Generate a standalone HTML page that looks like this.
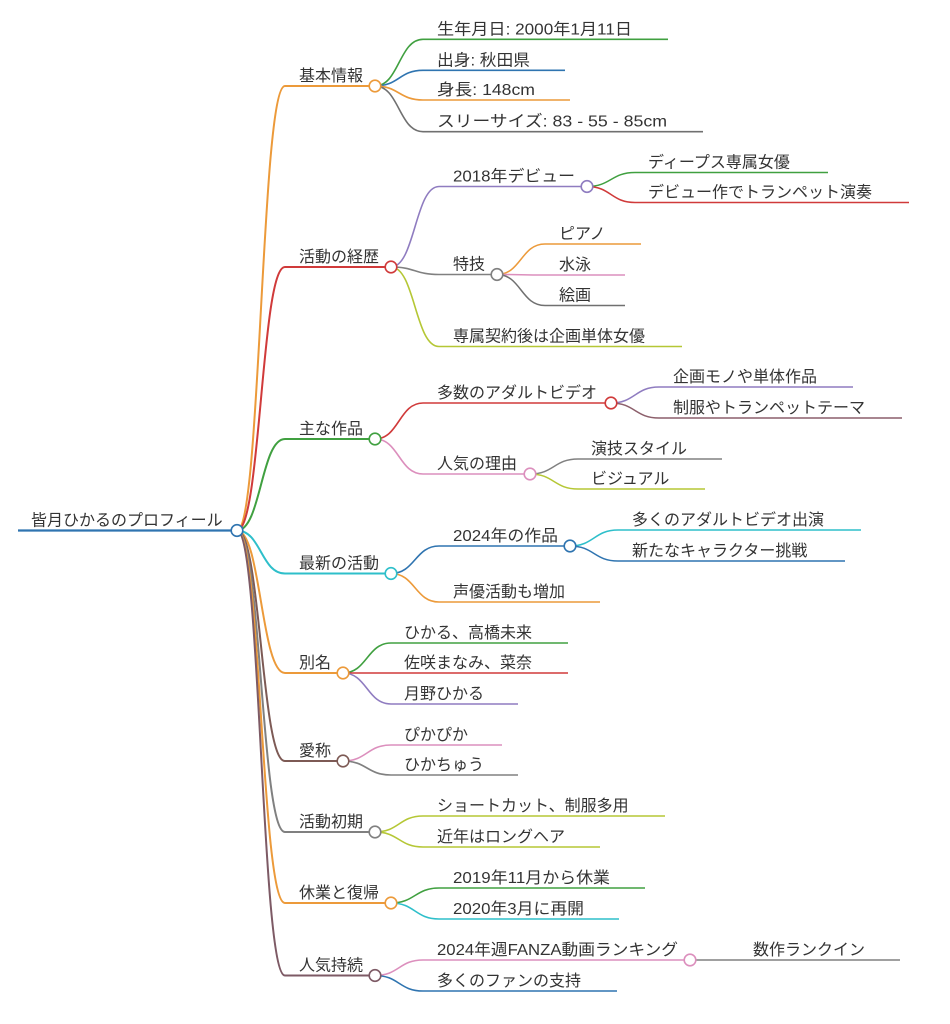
<!DOCTYPE html>
<html>
<head>
<meta charset="utf-8">
<style>
  html, body { margin: 0; padding: 0; background: #ffffff; }
  svg { display: block; }
  text { font-family: "Liberation Sans", "Noto Sans CJK JP", sans-serif; font-size: 16px; fill: #333333; }
  .l0 { stroke-width: 2.2; fill: none; }
  .l1 { stroke-width: 2; fill: none; }
  .l2 { stroke-width: 1.6; fill: none; }
  .l3 { stroke-width: 1.5; fill: none; }
  circle { fill: #ffffff; stroke-width: 1.6; }
</style>
</head>
<body>
<svg width="950" height="1024" viewBox="0 0 950 1024" xmlns="http://www.w3.org/2000/svg">
  <rect x="0" y="0" width="950" height="1024" fill="#ffffff"/>

  <!-- ============ LINKS root -> level1 ============ -->
  <g>
    <path class="l1" stroke="#ec9a3a" d="M237,530.5 C261,530.5 261,86 285,86"/>
    <path class="l1" stroke="#d03a3a" d="M237,530.5 C261,530.5 261,267 285,267"/>
    <path class="l1" stroke="#40a040" d="M237,530.5 C261,530.5 261,439 285,439"/>
    <path class="l1" stroke="#2ebfca" d="M237,530.5 C261,530.5 261,573.5 285,573.5"/>
    <path class="l1" stroke="#ec9a3a" d="M237,530.5 C261,530.5 261,673 285,673"/>
    <path class="l1" stroke="#7d5a55" d="M237,530.5 C261,530.5 261,761 285,761"/>
    <path class="l1" stroke="#808080" d="M237,530.5 C261,530.5 261,832 285,832"/>
    <path class="l1" stroke="#ec9a3a" d="M237,530.5 C261,530.5 261,903 285,903"/>
    <path class="l1" stroke="#7d5a65" d="M237,530.5 C261,530.5 261,975.5 285,975.5"/>
  </g>

  <!-- ============ LINKS level1 -> level2 ============ -->
  <g>
    <path class="l2" stroke="#40a040" d="M375,86 C399,86 399,39.3 423,39.3"/>
    <path class="l2" stroke="#2f74b0" d="M375,86 C399,86 399,70.3 423,70.3"/>
    <path class="l2" stroke="#ec9a3a" d="M375,86 C399,86 399,100 423,100"/>
    <path class="l2" stroke="#707070" d="M375,86 C399,86 399,131.7 423,131.7"/>
    <path class="l2" stroke="#8f7cc0" d="M391,267 C415,267 415,186.5 439,186.5"/>
    <path class="l2" stroke="#808080" d="M391,267 C415,267 415,274.5 439,274.5"/>
    <path class="l2" stroke="#b5c735" d="M391,267 C415,267 415,346.5 439,346.5"/>
    <path class="l2" stroke="#d03a3a" d="M375,439 C399,439 399,403 423,403"/>
    <path class="l2" stroke="#dc8fbd" d="M375,439 C399,439 399,474 423,474"/>
    <path class="l2" stroke="#2f74b0" d="M391,573.5 C415,573.5 415,546 439,546"/>
    <path class="l2" stroke="#ec9a3a" d="M391,573.5 C415,573.5 415,602 439,602"/>
    <path class="l2" stroke="#40a040" d="M343,673 C367,673 367,643 391,643"/>
    <path class="l2" stroke="#d03a3a" d="M343,673 C367,673 367,673 391,673"/>
    <path class="l2" stroke="#8f7cc0" d="M343,673 C367,673 367,704 391,704"/>
    <path class="l2" stroke="#dc8fbd" d="M343,761 C367,761 367,745 391,745"/>
    <path class="l2" stroke="#808080" d="M343,761 C367,761 367,775 391,775"/>
    <path class="l2" stroke="#b5c735" d="M375,832 C399,832 399,816 423,816"/>
    <path class="l2" stroke="#b5c735" d="M375,832 C399,832 399,847 423,847"/>
    <path class="l2" stroke="#40a040" d="M391,903 C415,903 415,888 439,888"/>
    <path class="l2" stroke="#2ebfca" d="M391,903 C415,903 415,919 439,919"/>
    <path class="l2" stroke="#dc8fbd" d="M375,975.5 C399,975.5 399,960 423,960"/>
    <path class="l2" stroke="#2f74b0" d="M375,975.5 C399,975.5 399,991 423,991"/>
  </g>

  <!-- ============ LINKS level2 -> level3 ============ -->
  <g>
    <path class="l3" stroke="#40a040" d="M587,186.5 C611,186.5 611,172.5 635,172.5"/>
    <path class="l3" stroke="#d03a3a" d="M587,186.5 C611,186.5 611,202.5 635,202.5"/>
    <path class="l3" stroke="#ec9a3a" d="M497,274.5 C521,274.5 521,244 545,244"/>
    <path class="l3" stroke="#dc8fbd" d="M497,274.5 C521,274.5 521,275 545,275"/>
    <path class="l3" stroke="#707070" d="M497,274.5 C521,274.5 521,305.5 545,305.5"/>
    <path class="l3" stroke="#8f7cc0" d="M611,403 C635,403 635,387 659,387"/>
    <path class="l3" stroke="#8c5f6b" d="M611,403 C635,403 635,418 659,418"/>
    <path class="l3" stroke="#808080" d="M530,474 C554,474 554,459 578,459"/>
    <path class="l3" stroke="#b5c735" d="M530,474 C554,474 554,489 578,489"/>
    <path class="l3" stroke="#2ebfca" d="M570,546 C594,546 594,530 618,530"/>
    <path class="l3" stroke="#2f74b0" d="M570,546 C594,546 594,561 618,561"/>
    <path class="l3" stroke="#808080" d="M690,960 C714,960 714,960 738,960"/>
  </g>

  <!-- ============ NODE LINES ============ -->
  <g>
    <line class="l0" stroke="#2f74b0" x1="18" y1="530.5" x2="237" y2="530.5"/>
    <line class="l1" stroke="#ec9a3a" x1="285" y1="86" x2="375" y2="86"/>
    <line class="l1" stroke="#d03a3a" x1="285" y1="267" x2="391" y2="267"/>
    <line class="l1" stroke="#40a040" x1="285" y1="439" x2="375" y2="439"/>
    <line class="l1" stroke="#2ebfca" x1="285" y1="573.5" x2="391" y2="573.5"/>
    <line class="l1" stroke="#ec9a3a" x1="285" y1="673" x2="343" y2="673"/>
    <line class="l1" stroke="#7d5a55" x1="285" y1="761" x2="343" y2="761"/>
    <line class="l1" stroke="#808080" x1="285" y1="832" x2="375" y2="832"/>
    <line class="l1" stroke="#ec9a3a" x1="285" y1="903" x2="391" y2="903"/>
    <line class="l1" stroke="#7d5a65" x1="285" y1="975.5" x2="375" y2="975.5"/>
    <line class="l2" stroke="#40a040" x1="423" y1="39.3" x2="668" y2="39.3"/>
    <line class="l2" stroke="#2f74b0" x1="423" y1="70.3" x2="565" y2="70.3"/>
    <line class="l2" stroke="#ec9a3a" x1="423" y1="100" x2="570" y2="100"/>
    <line class="l2" stroke="#707070" x1="423" y1="131.7" x2="703" y2="131.7"/>
    <line class="l2" stroke="#8f7cc0" x1="439" y1="186.5" x2="587" y2="186.5"/>
    <line class="l2" stroke="#808080" x1="439" y1="274.5" x2="497" y2="274.5"/>
    <line class="l2" stroke="#b5c735" x1="439" y1="346.5" x2="682" y2="346.5"/>
    <line class="l2" stroke="#d03a3a" x1="423" y1="403" x2="611" y2="403"/>
    <line class="l2" stroke="#dc8fbd" x1="423" y1="474" x2="530" y2="474"/>
    <line class="l2" stroke="#2f74b0" x1="439" y1="546" x2="570" y2="546"/>
    <line class="l2" stroke="#ec9a3a" x1="439" y1="602" x2="600" y2="602"/>
    <line class="l2" stroke="#40a040" x1="391" y1="643" x2="568" y2="643"/>
    <line class="l2" stroke="#d03a3a" x1="391" y1="673" x2="568" y2="673"/>
    <line class="l2" stroke="#8f7cc0" x1="391" y1="704" x2="518" y2="704"/>
    <line class="l2" stroke="#dc8fbd" x1="391" y1="745" x2="502" y2="745"/>
    <line class="l2" stroke="#808080" x1="391" y1="775" x2="518" y2="775"/>
    <line class="l2" stroke="#b5c735" x1="423" y1="816" x2="665" y2="816"/>
    <line class="l2" stroke="#b5c735" x1="423" y1="847" x2="600" y2="847"/>
    <line class="l2" stroke="#40a040" x1="439" y1="888" x2="645" y2="888"/>
    <line class="l2" stroke="#2ebfca" x1="439" y1="919" x2="619" y2="919"/>
    <line class="l2" stroke="#dc8fbd" x1="423" y1="960" x2="690" y2="960"/>
    <line class="l2" stroke="#2f74b0" x1="423" y1="991" x2="617" y2="991"/>
    <line class="l3" stroke="#40a040" x1="635" y1="172.5" x2="828" y2="172.5"/>
    <line class="l3" stroke="#d03a3a" x1="635" y1="202.5" x2="909" y2="202.5"/>
    <line class="l3" stroke="#ec9a3a" x1="545" y1="244" x2="641" y2="244"/>
    <line class="l3" stroke="#dc8fbd" x1="545" y1="275" x2="625" y2="275"/>
    <line class="l3" stroke="#707070" x1="545" y1="305.5" x2="625" y2="305.5"/>
    <line class="l3" stroke="#8f7cc0" x1="659" y1="387" x2="853" y2="387"/>
    <line class="l3" stroke="#8c5f6b" x1="659" y1="418" x2="902" y2="418"/>
    <line class="l3" stroke="#808080" x1="578" y1="459" x2="722" y2="459"/>
    <line class="l3" stroke="#b5c735" x1="578" y1="489" x2="705" y2="489"/>
    <line class="l3" stroke="#2ebfca" x1="618" y1="530" x2="861" y2="530"/>
    <line class="l3" stroke="#2f74b0" x1="618" y1="561" x2="845" y2="561"/>
    <line class="l3" stroke="#808080" x1="738" y1="960" x2="900" y2="960"/>
  </g>

  <!-- ============ CIRCLES ============ -->
  <g>
    <circle cx="237" cy="530.5" r="5.8" stroke="#2f74b0"/>
    <circle cx="375" cy="86" r="5.8" stroke="#ec9a3a"/>
    <circle cx="391" cy="267" r="5.8" stroke="#d03a3a"/>
    <circle cx="375" cy="439" r="5.8" stroke="#40a040"/>
    <circle cx="391" cy="573.5" r="5.8" stroke="#2ebfca"/>
    <circle cx="343" cy="673" r="5.8" stroke="#ec9a3a"/>
    <circle cx="343" cy="761" r="5.8" stroke="#7d5a55"/>
    <circle cx="375" cy="832" r="5.8" stroke="#808080"/>
    <circle cx="391" cy="903" r="5.8" stroke="#ec9a3a"/>
    <circle cx="375" cy="975.5" r="5.8" stroke="#7d5a65"/>
    <circle cx="587" cy="186.5" r="5.8" stroke="#8f7cc0"/>
    <circle cx="497" cy="274.5" r="5.8" stroke="#808080"/>
    <circle cx="611" cy="403" r="5.8" stroke="#d03a3a"/>
    <circle cx="530" cy="474" r="5.8" stroke="#dc8fbd"/>
    <circle cx="570" cy="546" r="5.8" stroke="#2f74b0"/>
    <circle cx="690" cy="960" r="5.8" stroke="#dc8fbd"/>
  </g>

  <!-- ============ TEXT ============ -->
  <g transform="translate(0,1)">
    <text x="31" y="524.5">皆月ひかるのプロフィール</text>

    <text x="299" y="80">基本情報</text>
    <text x="299" y="261">活動の経歴</text>
    <text x="299" y="433">主な作品</text>
    <text x="299" y="567.5">最新の活動</text>
    <text x="299" y="667">別名</text>
    <text x="299" y="755">愛称</text>
    <text x="299" y="826">活動初期</text>
    <text x="299" y="897">休業と復帰</text>
    <text x="299" y="969.5">人気持続</text>

    <text x="437" y="33.3" textLength="195" lengthAdjust="spacingAndGlyphs">生年月日: 2000年1月11日</text>
    <text x="437" y="64.3" textLength="93" lengthAdjust="spacingAndGlyphs">出身: 秋田県</text>
    <text x="437" y="94" textLength="98" lengthAdjust="spacingAndGlyphs">身長: 148cm</text>
    <text x="437" y="125.7" textLength="230" lengthAdjust="spacingAndGlyphs">スリーサイズ: 83 - 55 - 85cm</text>

    <text x="453" y="180.5" textLength="122" lengthAdjust="spacingAndGlyphs">2018年デビュー</text>
    <text x="648" y="166.5">ディープス専属女優</text>
    <text x="648" y="196.5">デビュー作でトランペット演奏</text>
    <text x="453" y="268.5">特技</text>
    <text x="559" y="238">ピアノ</text>
    <text x="559" y="269">水泳</text>
    <text x="559" y="299.5">絵画</text>
    <text x="453" y="340.5">専属契約後は企画単体女優</text>

    <text x="437" y="397">多数のアダルトビデオ</text>
    <text x="673" y="381">企画モノや単体作品</text>
    <text x="673" y="412">制服やトランペットテーマ</text>
    <text x="437" y="468">人気の理由</text>
    <text x="591" y="453">演技スタイル</text>
    <text x="591" y="483">ビジュアル</text>

    <text x="453" y="540" textLength="105" lengthAdjust="spacingAndGlyphs">2024年の作品</text>
    <text x="632" y="524">多くのアダルトビデオ出演</text>
    <text x="632" y="555">新たなキャラクター挑戦</text>
    <text x="453" y="596">声優活動も増加</text>

    <text x="404" y="637">ひかる、高橋未来</text>
    <text x="404" y="667">佐咲まなみ、菜奈</text>
    <text x="404" y="698">月野ひかる</text>

    <text x="404" y="739">ぴかぴか</text>
    <text x="404" y="769">ひかちゅう</text>

    <text x="437" y="810">ショートカット、制服多用</text>
    <text x="437" y="841">近年はロングヘア</text>

    <text x="453" y="882" textLength="157" lengthAdjust="spacingAndGlyphs">2019年11月から休業</text>
    <text x="453" y="913" textLength="131" lengthAdjust="spacingAndGlyphs">2020年3月に再開</text>

    <text x="437" y="954" textLength="241" lengthAdjust="spacingAndGlyphs">2024年週FANZA動画ランキング</text>
    <text x="753" y="954">数作ランクイン</text>
    <text x="437" y="985">多くのファンの支持</text>
  </g>
</svg>
</body>
</html>
